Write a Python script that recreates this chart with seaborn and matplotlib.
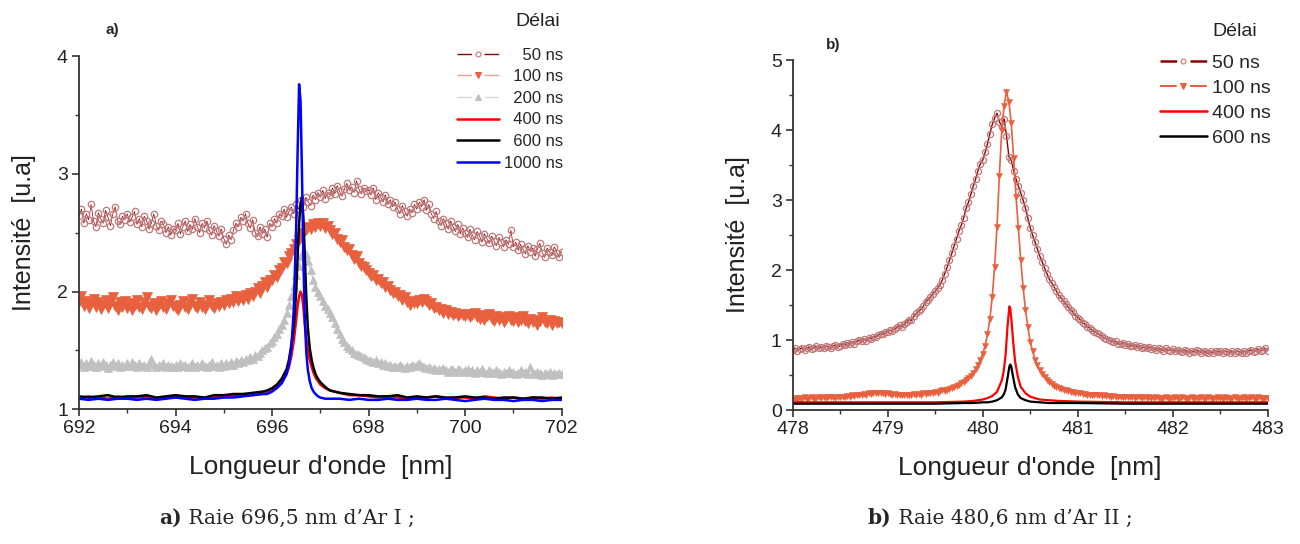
import numpy as np
import seaborn as sns
import matplotlib.pyplot as plt
from matplotlib.lines import Line2D
from matplotlib.ticker import MultipleLocator

# ---- panel a : raie 696,5 nm d'Ar I (spectrum sampled every 0.05 nm) ----
wl_a = np.linspace(692, 702, 201)

a_50 = [2.64, 2.70, 2.58, 2.66, 2.61, 2.74, 2.60, 2.55, 2.67, 2.62, 2.58, 2.69, 2.63, 2.56, 2.66, 2.72, 2.60, 2.57, 2.64, 2.61,
        2.66, 2.59, 2.63, 2.68, 2.57, 2.62, 2.55, 2.64, 2.60, 2.53, 2.58, 2.66, 2.56, 2.52, 2.60, 2.57, 2.50, 2.55, 2.48, 2.53,
        2.52, 2.58, 2.49, 2.55, 2.60, 2.51, 2.57, 2.53, 2.62, 2.55, 2.50, 2.58, 2.54, 2.60, 2.52, 2.48, 2.56, 2.51, 2.47, 2.53,
        2.45, 2.40, 2.48, 2.44, 2.52, 2.58, 2.55, 2.63, 2.60, 2.66, 2.58, 2.54, 2.61, 2.50, 2.47, 2.55, 2.49, 2.53, 2.46, 2.58,
        2.55, 2.62, 2.58, 2.66, 2.64, 2.70, 2.63, 2.68, 2.72, 2.66, 2.74, 2.70, 2.78, 2.72, 2.80, 2.76, 2.73, 2.82, 2.78, 2.84,
        2.80, 2.86, 2.79, 2.84, 2.82, 2.88, 2.83, 2.90, 2.85, 2.81, 2.87, 2.92, 2.86, 2.89, 2.84, 2.94, 2.87, 2.83, 2.88, 2.85,
        2.86, 2.82, 2.88, 2.78, 2.84, 2.80, 2.76, 2.82, 2.74, 2.78, 2.72, 2.76, 2.70, 2.66, 2.73, 2.68, 2.64, 2.70, 2.67, 2.74,
        2.70, 2.76, 2.72, 2.78, 2.69, 2.74, 2.66, 2.62, 2.68, 2.60, 2.56, 2.62, 2.58, 2.53, 2.60, 2.55, 2.51, 2.57, 2.49, 2.54,
        2.50, 2.46, 2.53, 2.48, 2.44, 2.51, 2.47, 2.42, 2.49, 2.45, 2.41, 2.47, 2.43, 2.39, 2.46, 2.42, 2.38, 2.44, 2.40, 2.52,
        2.38, 2.42, 2.35, 2.40, 2.36, 2.32, 2.39, 2.34, 2.37, 2.30, 2.36, 2.41, 2.33, 2.29, 2.37, 2.34, 2.31, 2.38, 2.33, 2.29,
        2.34]

a_100 = [1.91, 1.96, 1.88, 1.92, 1.86, 1.90, 1.94, 1.87, 1.91, 1.85, 1.89, 1.93, 1.86, 1.90, 1.95, 1.88, 1.84, 1.91, 1.87, 1.92,
         1.86, 1.90, 1.84, 1.89, 1.93, 1.87, 1.85, 1.91, 1.95, 1.88, 1.86, 1.90, 1.84, 1.89, 1.92, 1.87, 1.85, 1.90, 1.93, 1.88,
         1.86, 1.84, 1.89, 1.92, 1.87, 1.85, 1.90, 1.94, 1.88, 1.86, 1.91, 1.87, 1.85, 1.89, 1.93, 1.88, 1.86, 1.90, 1.88, 1.91,
         1.89, 1.93, 1.90, 1.94, 1.91, 1.96, 1.92, 1.95, 1.93, 1.97, 1.94, 1.99, 1.96, 2.00, 2.03, 1.99, 2.05, 2.08, 2.04, 2.10,
         2.10, 2.14, 2.12, 2.18, 2.20, 2.25, 2.24, 2.30, 2.33, 2.36, 2.40, 2.44, 2.46, 2.50, 2.52, 2.55, 2.53, 2.57, 2.55, 2.58,
         2.56, 2.58, 2.54, 2.56, 2.52, 2.49, 2.50, 2.45, 2.42, 2.44, 2.38, 2.35, 2.36, 2.31, 2.28, 2.30, 2.24, 2.22, 2.21, 2.18,
         2.16, 2.13, 2.14, 2.10, 2.11, 2.07, 2.08, 2.04, 2.05, 2.01, 1.99, 2.00, 1.96, 1.97, 1.93, 1.95, 1.91, 1.89, 1.92, 1.90,
         1.90, 1.93, 1.91, 1.94, 1.92, 1.89, 1.90, 1.86, 1.87, 1.84, 1.85, 1.82, 1.84, 1.81, 1.83, 1.80, 1.82, 1.79, 1.81, 1.80,
         1.79, 1.81, 1.78, 1.80, 1.82, 1.78, 1.77, 1.80, 1.76, 1.79, 1.81, 1.77, 1.75, 1.79, 1.76, 1.78, 1.74, 1.77, 1.79, 1.76,
         1.75, 1.78, 1.74, 1.76, 1.79, 1.75, 1.73, 1.77, 1.74, 1.76, 1.72, 1.75, 1.78, 1.74, 1.73, 1.76, 1.72, 1.75, 1.73, 1.74,
         1.73]

a_200 = [1.38, 1.40, 1.36, 1.39, 1.37, 1.41, 1.38, 1.36, 1.39, 1.37, 1.40, 1.38, 1.35, 1.38, 1.40, 1.37, 1.39, 1.36, 1.38, 1.37,
         1.39, 1.37, 1.40, 1.38, 1.36, 1.39, 1.37, 1.38, 1.36, 1.39, 1.43, 1.38, 1.36, 1.38, 1.37, 1.39, 1.36, 1.38, 1.37, 1.36,
         1.38, 1.36, 1.39, 1.37, 1.38, 1.36, 1.37, 1.39, 1.36, 1.38, 1.37, 1.39, 1.37, 1.36, 1.38, 1.40, 1.37, 1.38, 1.36, 1.39,
         1.37, 1.39, 1.38, 1.40, 1.38, 1.41, 1.39, 1.42, 1.40, 1.43, 1.42, 1.44, 1.43, 1.46, 1.45, 1.48, 1.50, 1.52, 1.53, 1.56,
         1.58, 1.61, 1.64, 1.68, 1.72, 1.76, 1.82, 1.89, 1.96, 2.05, 2.14, 2.22, 2.30, 2.34, 2.32, 2.26, 2.18, 2.10, 2.04, 2.00,
         1.96, 1.92, 1.88, 1.85, 1.82, 1.78, 1.73, 1.68, 1.64, 1.60, 1.57, 1.54, 1.52, 1.50, 1.48, 1.47, 1.46, 1.45, 1.44, 1.43,
         1.42, 1.41, 1.40, 1.42, 1.39, 1.40, 1.38, 1.39, 1.37, 1.38, 1.36, 1.37, 1.36, 1.38, 1.36, 1.35, 1.37, 1.36, 1.38, 1.37,
         1.38, 1.39, 1.37, 1.36, 1.35, 1.36, 1.34, 1.35, 1.33, 1.34, 1.33, 1.35, 1.33, 1.32, 1.34, 1.33, 1.32, 1.34, 1.33, 1.32,
         1.33, 1.34, 1.32, 1.33, 1.31, 1.33, 1.32, 1.34, 1.32, 1.31, 1.33, 1.32, 1.31, 1.33, 1.32, 1.30, 1.32, 1.31, 1.33, 1.31,
         1.32, 1.30, 1.31, 1.33, 1.31, 1.32, 1.30, 1.36, 1.31, 1.30, 1.32, 1.31, 1.29, 1.31, 1.30, 1.32, 1.29, 1.31, 1.30, 1.31,
         1.30]

# later delays: finer sampling around the peak
wl_a_line = [692.0, 692.2, 692.4, 692.6, 692.8, 693.0, 693.2, 693.4, 693.6, 693.8,
             694.0, 694.2, 694.4, 694.6, 694.8, 695.0, 695.2, 695.4, 695.6, 695.8,
             695.9, 696.0, 696.1, 696.2, 696.3, 696.35, 696.4, 696.45, 696.5, 696.53,
             696.56, 696.59, 696.62, 696.65, 696.68, 696.71, 696.74, 696.78, 696.82, 696.86,
             696.9, 696.95, 697.0, 697.1,
             697.2, 697.4, 697.6, 697.8, 698.0, 698.2, 698.4, 698.6, 698.8, 699.0,
             699.2, 699.4, 699.6, 699.8, 700.0, 700.2, 700.4, 700.6, 700.8, 701.0,
             701.2, 701.4, 701.6, 701.8, 702.0]

a_400 = [1.10, 1.11, 1.10, 1.09, 1.11, 1.10, 1.10, 1.11, 1.09, 1.10,
         1.11, 1.10, 1.10, 1.09, 1.10, 1.11, 1.11, 1.12, 1.12, 1.13,
         1.14, 1.16, 1.19, 1.23, 1.30, 1.36, 1.45, 1.58, 1.76, 1.88,
         1.96, 2.00, 1.97, 1.86, 1.72, 1.60, 1.50, 1.42, 1.36, 1.31,
         1.27, 1.24, 1.21, 1.18,
         1.16, 1.14, 1.12, 1.12, 1.11, 1.10, 1.11, 1.10, 1.09, 1.10,
         1.10, 1.11, 1.09, 1.10, 1.10, 1.09, 1.11, 1.10, 1.09, 1.10,
         1.09, 1.10, 1.09, 1.10, 1.09]

a_600 = [1.11, 1.10, 1.11, 1.12, 1.10, 1.11, 1.11, 1.12, 1.10, 1.11,
         1.12, 1.11, 1.11, 1.10, 1.12, 1.12, 1.13, 1.13, 1.14, 1.15,
         1.16, 1.18, 1.21, 1.26, 1.34, 1.42, 1.55, 1.70, 2.00, 2.30,
         2.58, 2.74, 2.80, 2.62, 2.28, 1.95, 1.70, 1.52, 1.42, 1.35,
         1.30, 1.26, 1.23, 1.19,
         1.16, 1.14, 1.13, 1.12, 1.12, 1.11, 1.11, 1.12, 1.10, 1.11,
         1.10, 1.11, 1.10, 1.10, 1.11, 1.10, 1.10, 1.09, 1.10, 1.10,
         1.09, 1.10, 1.10, 1.09, 1.10]

a_1000 = [1.09, 1.08, 1.09, 1.08, 1.09, 1.09, 1.08, 1.09, 1.08, 1.09,
          1.10, 1.09, 1.08, 1.09, 1.09, 1.10, 1.10, 1.11, 1.12, 1.13,
          1.13, 1.15, 1.18, 1.22, 1.30, 1.38, 1.52, 1.85, 2.55, 3.20,
          3.76, 3.62, 3.00, 2.25, 1.75, 1.48, 1.34, 1.24, 1.18, 1.15,
          1.13, 1.11, 1.10, 1.09,
          1.09, 1.09, 1.08, 1.09, 1.08, 1.08, 1.09, 1.08, 1.08, 1.09,
          1.08, 1.08, 1.09, 1.08, 1.07, 1.08, 1.09, 1.08, 1.08, 1.07,
          1.08, 1.08, 1.07, 1.08, 1.08]

# ---- panel b : raie 480,6 nm d'Ar II (sampled every 0.025 nm) ----
wl_b = np.linspace(478, 483, 201)

b_50 = [0.86, 0.88, 0.85, 0.87, 0.89, 0.86, 0.88, 0.90, 0.87, 0.89, 0.91, 0.88, 0.90, 0.89, 0.92, 0.90, 0.88, 0.91, 0.93, 0.90,
        0.92, 0.95, 0.93, 0.96, 0.94, 0.97, 0.95, 0.98, 1.00, 0.98, 1.01, 0.99, 1.03, 1.02, 1.05, 1.04, 1.07, 1.09, 1.08, 1.11,
        1.12, 1.14, 1.13, 1.16, 1.18, 1.21, 1.19, 1.23, 1.26, 1.29, 1.28, 1.34, 1.38, 1.41, 1.44, 1.48, 1.55, 1.57, 1.62, 1.66,
        1.70, 1.74, 1.79, 1.86, 1.95, 2.04, 2.14, 2.24, 2.35, 2.45, 2.56, 2.64, 2.75, 2.88, 2.97, 3.08, 3.20, 3.30, 3.42, 3.52,
        3.57, 3.68, 3.80, 3.95, 4.08, 4.17, 4.24, 4.12, 4.05, 4.16, 3.92, 3.62, 3.57, 3.42, 3.30, 3.20, 3.10, 3.00, 2.88, 2.74,
        2.60, 2.50, 2.40, 2.30, 2.20, 2.12, 2.03, 1.95, 1.87, 1.82, 1.76, 1.70, 1.64, 1.60, 1.56, 1.51, 1.47, 1.43, 1.40, 1.35,
        1.32, 1.29, 1.25, 1.23, 1.19, 1.17, 1.14, 1.12, 1.10, 1.08, 1.06, 1.03, 1.02, 1.00, 0.99, 0.97, 0.98, 0.95, 0.94, 0.96,
        0.93, 0.94, 0.92, 0.91, 0.93, 0.90, 0.91, 0.89, 0.90, 0.88, 0.90, 0.87, 0.89, 0.86, 0.88, 0.87, 0.85, 0.88, 0.86, 0.85,
        0.87, 0.84, 0.86, 0.85, 0.83, 0.86, 0.84, 0.82, 0.85, 0.83, 0.86, 0.84, 0.82, 0.85, 0.83, 0.81, 0.84, 0.82, 0.85, 0.83,
        0.84, 0.82, 0.85, 0.83, 0.81, 0.84, 0.82, 0.85, 0.83, 0.81, 0.84, 0.82, 0.84, 0.86, 0.83, 0.85, 0.87, 0.84, 0.86, 0.88,
        0.85]

b_100 = [0.16, 0.17, 0.15, 0.17, 0.16, 0.18, 0.16, 0.17, 0.18, 0.16, 0.17, 0.18, 0.17, 0.19, 0.17, 0.18, 0.19, 0.18, 0.17, 0.19,
         0.18, 0.19, 0.18, 0.20, 0.19, 0.21, 0.20, 0.21, 0.22, 0.21, 0.23, 0.22, 0.24, 0.23, 0.24, 0.25, 0.24, 0.25, 0.24, 0.23,
         0.24, 0.23, 0.22, 0.23, 0.22, 0.21, 0.22, 0.21, 0.22, 0.21, 0.22, 0.23, 0.22, 0.23, 0.22, 0.24, 0.23, 0.24, 0.25, 0.24,
         0.26, 0.25, 0.27, 0.28, 0.27, 0.29, 0.30, 0.31, 0.33, 0.34, 0.36, 0.38, 0.40, 0.43, 0.46, 0.49, 0.53, 0.58, 0.64, 0.72,
         0.80, 0.92, 1.08, 1.30, 1.62, 2.05, 2.62, 3.35, 4.00, 4.35, 4.55, 4.40, 4.10, 3.60, 3.05, 2.60, 2.14, 1.75, 1.43, 1.18,
         0.97, 0.84, 0.72, 0.64, 0.57, 0.52, 0.47, 0.43, 0.40, 0.37, 0.35, 0.33, 0.31, 0.30, 0.29, 0.28, 0.27, 0.26, 0.26, 0.25,
         0.24, 0.24, 0.23, 0.23, 0.22, 0.22, 0.21, 0.22, 0.21, 0.21, 0.20, 0.21, 0.20, 0.20, 0.19, 0.20, 0.19, 0.19, 0.18, 0.19,
         0.18, 0.19, 0.18, 0.18, 0.17, 0.18, 0.18, 0.17, 0.18, 0.17, 0.18, 0.17, 0.17, 0.18, 0.17, 0.16, 0.17, 0.18, 0.17, 0.16,
         0.17, 0.18, 0.16, 0.17, 0.18, 0.17, 0.16, 0.17, 0.18, 0.16, 0.17, 0.17, 0.18, 0.16, 0.17, 0.18, 0.17, 0.16, 0.17, 0.18,
         0.17, 0.16, 0.18, 0.17, 0.16, 0.17, 0.18, 0.17, 0.16, 0.17, 0.18, 0.16, 0.17, 0.18, 0.17, 0.16, 0.18, 0.17, 0.16, 0.17,
         0.17]

wl_b_line = [478.0, 478.5, 479.0, 479.5, 479.8, 479.9, 480.0, 480.05, 480.1, 480.15,
             480.2, 480.22, 480.24, 480.26, 480.28, 480.29, 480.30, 480.32, 480.34, 480.37,
             480.4, 480.45, 480.5, 480.6, 480.7, 480.8, 481.0, 481.5, 482.0, 482.5, 483.0]

b_400 = [0.11, 0.11, 0.11, 0.11, 0.12, 0.13, 0.15, 0.17, 0.20, 0.26,
         0.42, 0.55, 0.78, 1.18, 1.48, 1.45, 1.32, 0.98, 0.70, 0.47,
         0.33, 0.24, 0.19, 0.15, 0.14, 0.13, 0.12, 0.11, 0.11, 0.11, 0.11]

b_600 = [0.09, 0.09, 0.09, 0.09, 0.10, 0.10, 0.11, 0.11, 0.12, 0.14,
         0.18, 0.22, 0.29, 0.45, 0.62, 0.65, 0.62, 0.47, 0.33, 0.22,
         0.17, 0.14, 0.12, 0.11, 0.10, 0.10, 0.10, 0.09, 0.09, 0.09, 0.09]

# colours (Origin-like)
c50_line, c50_mk = '#8B0000', '#C07878'
c100 = '#E8603E'
c200 = '#C0C0C0'
c400, c600, c1000 = '#FF0000', 'black', '#0000FF'

sns.set_theme(style='ticks')
plt.rcParams['font.family'] = ['Liberation Sans', 'DejaVu Sans']
plt.rcParams['lines.scale_dashes'] = False
plt.rcParams['axes.linewidth'] = 1.3

fig = plt.figure(figsize=(13, 5.44), dpi=100)
ax_a = fig.add_axes([0.0608, 0.2476, 0.3712, 0.6494])
ax_b = fig.add_axes([0.6098, 0.2463, 0.3654, 0.6434])

# panel a
sns.lineplot(x=wl_a, y=a_50, ax=ax_a, color=c50_line, lw=0.5, marker='o', ms=4.6,
             mfc='none', mec=c50_mk, mew=0.9, estimator=None, sort=False)
sns.lineplot(x=wl_a, y=a_100, ax=ax_a, color=c100, lw=0.8, marker='v', ms=6.5,
             mfc=c100, mec=c100, mew=0.5, estimator=None, sort=False)
sns.lineplot(x=wl_a, y=a_200, ax=ax_a, color=c200, lw=0.8, marker='^', ms=6.0,
             mfc=c200, mec=c200, mew=0.5, estimator=None, sort=False)
sns.lineplot(x=wl_a_line, y=a_400, ax=ax_a, color=c400, lw=1.8, estimator=None, sort=False)
sns.lineplot(x=wl_a_line, y=a_600, ax=ax_a, color=c600, lw=1.8, estimator=None, sort=False)
sns.lineplot(x=wl_a_line, y=a_1000, ax=ax_a, color=c1000, lw=1.8, estimator=None, sort=False)

# panel b
sns.lineplot(x=wl_b, y=b_50, ax=ax_b, color=c50_line, lw=1.0, marker='o', ms=4.4,
             mfc='none', mec=c50_mk, mew=0.9, estimator=None, sort=False)
sns.lineplot(x=wl_b, y=b_100, ax=ax_b, color=c100, lw=1.2, marker='v', ms=4.6,
             mfc=c100, mec=c100, mew=0.4, estimator=None, sort=False)
sns.lineplot(x=wl_b_line, y=b_400, ax=ax_b, color=c400, lw=1.6, estimator=None, sort=False)
sns.lineplot(x=wl_b_line, y=b_600, ax=ax_b, color=c600, lw=1.6, estimator=None, sort=False)

for ax, (x0, x1, xmaj), (y0, y1) in [(ax_a, (692, 702, 2), (1, 4)), (ax_b, (478, 483, 1), (0, 5))]:
    ax.set_xlim(x0, x1)
    ax.set_ylim(y0, y1)
    ax.xaxis.set_major_locator(MultipleLocator(xmaj))
    ax.xaxis.set_minor_locator(MultipleLocator(xmaj / 2))
    ax.yaxis.set_major_locator(MultipleLocator(1))
    ax.yaxis.set_minor_locator(MultipleLocator(0.5))
    ax.tick_params(which='major', direction='out', length=5, width=1.2, colors='#333333',
                   labelcolor='#222222', labelsize=14, pad=3)
    ax.tick_params(which='minor', direction='out', length=3, width=1.0, colors='#333333')
    for s in ['left', 'bottom']:
        ax.spines[s].set_color('#333333')
    sns.despine(ax=ax)
    ax.set_xlabel("Longueur d'onde  [nm]", fontsize=19, labelpad=13, color='#222222')
    ax.set_ylabel('Intensité  [u.a]', fontsize=18, labelpad=15, color='#222222')


def handle(color, marker=None, mfc=None, mec=None, ms=4, lw=1.0, dashes=None):
    kw = dict(color=color, lw=lw, marker=marker, ms=ms, mfc=mfc, mec=mec, mew=0.8)
    if dashes is not None:
        kw['dashes'] = dashes
    return Line2D([], [], **kw)


# legend a : labels right aligned like the Origin legend
h_a = [handle(c50_line, 'o', 'none', c50_mk, 3.5, 1.0, (10.5, 9)),
       handle('#F0A090', 'v', c100, c100, 4.5, 1.0, (10.5, 9)),
       handle('#D8D8D8', '^', c200, c200, 4.5, 1.0, (10.5, 9)),
       handle(c400, lw=1.8), handle(c600, lw=1.8), handle(c1000, lw=1.8)]
lab_a = ['    50 ns', '  100 ns', '  200 ns', '  400 ns', '  600 ns', '1000 ns']
ax_a.legend(h_a, lab_a, loc='upper right',
            bbox_to_anchor=(563 / 1300, 1 - 47.5 / 544), bbox_transform=fig.transFigure,
            frameon=False, fontsize=12, handlelength=2.5,
            handletextpad=0.3, labelspacing=0.40, borderpad=0, borderaxespad=0)
fig.text(538 / 1300, 1 - 21 / 544, 'Délai', fontsize=14, ha='center', va='center', color='#222222')

h_b = [handle(c50_line, 'o', 'none', c50_mk, 3.5, 1.8, (12, 9.6)),
       handle(c100, 'v', c100, c100, 4, 1.5, (12, 9.6)),
       handle(c400, lw=1.8), handle(c600, lw=1.8)]
lab_b = ['50 ns', '100 ns', '400 ns', '600 ns']
ax_b.legend(h_b, lab_b, loc='upper left',
            bbox_to_anchor=(1160 / 1300, 1 - 54.5 / 544), bbox_transform=fig.transFigure,
            frameon=False, fontsize=14, handlelength=2.4,
            handletextpad=0.25, labelspacing=0.38, borderpad=0, borderaxespad=0)
fig.text(1235 / 1300, 1 - 32 / 544, 'Délai', fontsize=14, ha='center', va='center', color='#222222')

fig.text(112 / 1300, 1 - 30 / 544, 'a)', fontsize=11, fontweight='bold', ha='center', va='center')
fig.text(833 / 1300, 1 - 45 / 544, 'b)', fontsize=11, fontweight='bold', ha='center', va='center')

# captions under the panels (bold tag + regular text, centred together)
for xc, tag, txt in [(287, 'a)', ' Raie 696,5 nm d\u2019Ar I ;'), (1000, 'b)', ' Raie 480,6 nm d\u2019Ar II ;')]:
    t1 = fig.text(0, 0, tag, fontsize=14.5, fontweight='bold', family='DejaVu Serif', va='center')
    t2 = fig.text(0, 0, txt, fontsize=14.5, family='DejaVu Serif', va='center')
    fig.canvas.draw()
    w1 = t1.get_window_extent().width
    w2 = t2.get_window_extent().width
    left = xc - (w1 + w2) / 2
    t1.set_position((left / 1300, 1 - 518 / 544))
    t2.set_position(((left + w1) / 1300, 1 - 518 / 544))

fig.savefig('out.png', dpi=100)
